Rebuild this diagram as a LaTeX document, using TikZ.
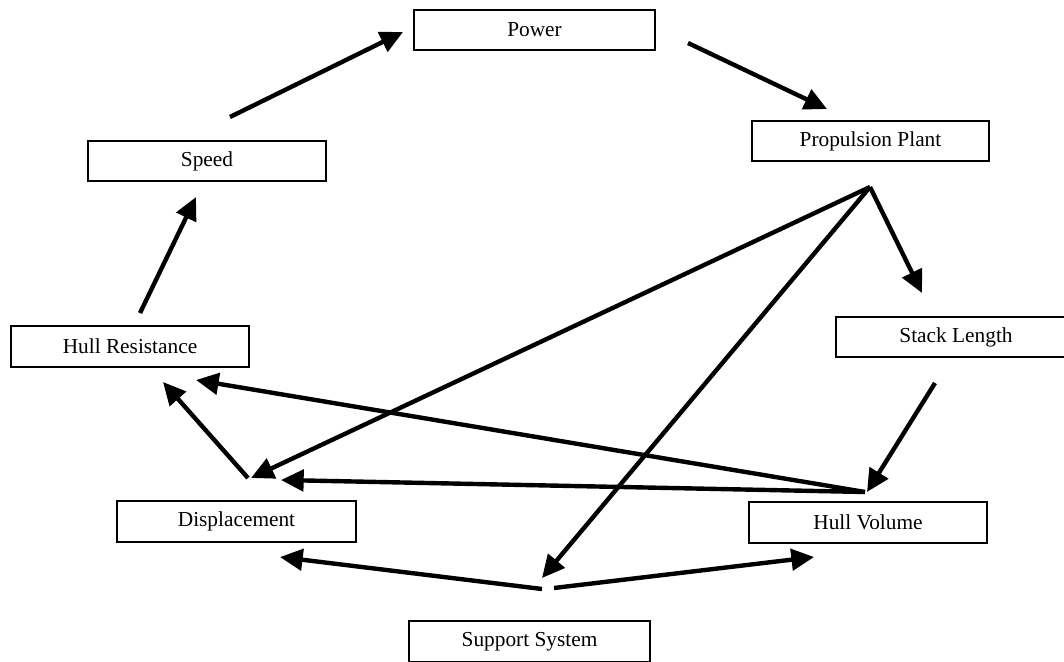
\documentclass[tikz,border=0pt]{standalone}
\usepackage{fontspec}
\setmainfont{Liberation Serif}
\usetikzlibrary{arrows.meta}
\begin{document}
\begin{tikzpicture}[x=0.75pt,y=-0.75pt,
  box/.style={draw, line width=1.4pt, inner sep=0pt, minimum height=30.5pt,
    font=\fontsize{16}{19}\selectfont},
  link/.style={line width=3.3pt, -{Triangle[length=17pt,width=16pt]}}]
\clip (0,0) rectangle (1064,661);

% boxes
\node[box, minimum width=0.75pt*241] (power)   at (534.5,30)  {Power};
\node[box, minimum width=0.75pt*237] (prop)    at (870.5,141) {Propulsion Plant};
\node[box, minimum width=0.75pt*238] (speed)   at (207,161)   {Speed};
\node[box, minimum width=0.75pt*240] (stack)   at (956,337)   {Stack Length};
\node[box, minimum width=0.75pt*238] (hullres) at (130,346.5) {Hull Resistance};
\node[box, minimum width=0.75pt*239] (disp)    at (236.5,521.5) {Displacement};
\node[box, minimum width=0.75pt*238] (hullvol) at (868,522.5) {Hull Volume};
\node[box, minimum width=0.75pt*241] (support) at (529.5,641.5) {Support System};

% connector end points
\coordinate (speedOut)  at (230,117);
\coordinate (powerIn)   at (403,32);
\coordinate (powerOut)  at (688,43);
\coordinate (propIn)    at (827,109);
\coordinate (propOut)   at (870,187);
\coordinate (stackIn)   at (922,293);
\coordinate (stackOut)  at (935,383);
\coordinate (volIn)     at (867,492);
\coordinate (volOut)    at (865,492);
\coordinate (resInA)    at (196,380);
\coordinate (resInB)    at (163,382);
\coordinate (dispOut)   at (248,478);
\coordinate (dispInA)   at (251,478);
\coordinate (dispInB)   at (281,480);
\coordinate (dispInC)   at (280,557);
\coordinate (resOut)    at (140,313);
\coordinate (speedIn)   at (196,197);
\coordinate (supIn)     at (542,578);
\coordinate (supOutL)   at (542,589);
\coordinate (supOutR)   at (554,588);
\coordinate (volInB)    at (814,557);

% connectors
\draw[link] (speedOut) -- (powerIn);
\draw[link] (powerOut) -- (propIn);
\draw[link] (propOut) -- (stackIn);
\draw[link] (propOut) -- (dispInA);
\draw[link] (propOut) -- (supIn);
\draw[link] (stackOut) -- (volIn);
\draw[link] (volOut) -- (resInA);
\draw[link] (volOut) -- (dispInB);
\draw[link] (dispOut) -- (resInB);
\draw[link] (resOut) -- (speedIn);
\draw[link] (supOutL) -- (dispInC);
\draw[link] (supOutR) -- (volInB);
\end{tikzpicture}
\end{document}
